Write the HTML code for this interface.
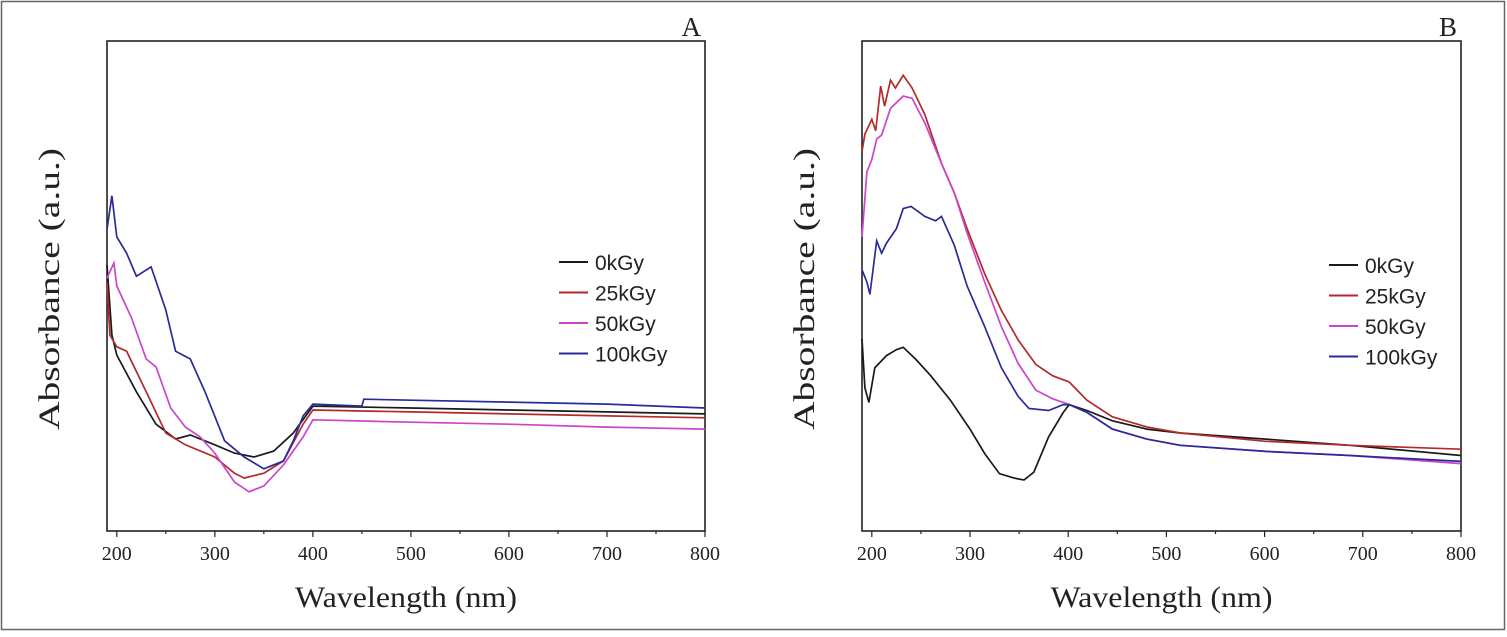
<!DOCTYPE html>
<html><head><meta charset="utf-8"><style>
body{margin:0;background:#fff;}
svg text{font-family:"Liberation Serif",serif;}
.lg{font-family:"Liberation Sans",sans-serif;font-size:21px;}
</style></head><body>
<svg width="1507" height="632" viewBox="0 0 1507 632" xmlns="http://www.w3.org/2000/svg">
<rect x="1.5" y="1.5" width="1503" height="628" fill="none" stroke="#666" stroke-width="1.5"/>
<g id="pa"></g>
<g id="pb"></g>
</svg>
<script>
const xTicks=[200,300,400,500,600,700,800];
const seriesNames=["0kGy","25kGy","50kGy","100kGy"];
const colors=["#1a1a1a","#b22a2a","#cc44cc","#2a2a9a"];
// Panel A
const aBlackX=[190,195,200,220,240,260,275,300,320,340,360,380,400,500,600,700,800];
const aBlackY=[54.3,40,35.9,28.4,21.8,18.8,19.6,17.6,15.9,15.1,16.3,20,25.5,25.1,24.7,24.3,23.9];
const aRedX=[190,193,200,210,230,250,270,300,320,330,350,370,390,400,500,600,700,800];
const aRedY=[50.8,40,37.6,36.7,28.4,20,17.6,15.1,11.8,10.8,11.8,14.3,21.8,24.7,24.3,23.9,23.5,23.1];
const aMagX=[190,197,200,215,230,240,255,270,285,300,320,335,350,370,390,400,500,600,700,800];
const aMagY=[51.6,54.7,50,43.5,35.1,33.5,25.1,21.2,19.2,15.9,10,8,9.2,13.5,19.2,22.7,22.2,21.8,21.2,20.8];
const aBlueX=[190,195,200,210,220,235,250,260,275,290,310,330,350,370,380,390,400,450,452,500,600,700,800];
const aBlueY=[61.6,68.4,60,56.7,52,53.9,45.1,36.7,35.1,28.4,18.4,15.1,12.7,14.3,18.4,23.5,25.9,25.5,26.9,26.7,26.3,25.9,25.1];
// Panel B
const bBlackX=[190,193,197,203,215,225,232,245,260,280,300,315,330,345,355,365,380,395,401,419,445,480,514,601,687,800];
const bBlackY=[39.2,29.2,26.25,33.3,35.8,37,37.5,35,31.7,26.7,20.8,15.8,11.7,10.8,10.4,12,19.2,24.2,25.8,24.6,22.5,20.8,20,18.75,17.5,15.4];
const bRedX=[190,193,200,204,209,213,219,224,232,241,254,271,284,297,315,332,349,367,384,401,419,445,480,514,601,687,800];
const bRedY=[77.5,81,84,81.7,90.8,86.7,92,90.4,93,90.4,85,75,69,61.7,52.5,45,39,34,31.7,30.4,26.7,23.3,21.25,20,18.3,17.5,16.7];
const bMagX=[190,195,200,205,210,219,232,241,254,271,284,297,315,332,349,367,384,401,419,445,480,514,601,687,800];
const bMagY=[60,73.3,75.8,80,80.8,86.25,88.75,88.3,83.3,75,69,60.8,50.8,41.7,34.2,28.75,27,25.8,24.2,20.8,18.75,17.5,16.25,15.4,13.75];
const bBlueX=[190,195,198,205,210,215,225,232,240,254,265,271,284,297,315,332,349,360,380,395,401,419,445,480,514,601,687,800];
const bBlueY=[53.3,50.8,48.3,59.2,56.7,58.75,61.7,65.8,66.25,64.2,63.3,64.2,58.3,50,41.7,33.3,27.5,25,24.6,25.8,25.8,24.2,20.8,18.75,17.5,16.25,15.4,14.2];

const NS="http://www.w3.org/2000/svg";
function mk(parent,tag,attrs){const e=document.createElementNS(NS,tag);for(const k in attrs)e.setAttribute(k,attrs[k]);parent.appendChild(e);return e;}
function panel(gid,L,R,letter,data,legX,legY){
  const g=document.getElementById(gid);
  const T=41,B=531;
  const xs=v=>L+(v-190)/(800-190)*(R-L);
  const ys=v=>B-v/100*(B-T);
  const fr=mk(g,'rect',{x:L,y:T,width:R-L,height:B-T,fill:'none',stroke:'#222','stroke-width':1.6});
  
  
  for(let v=200;v<=800;v+=50){
    const major=v%100===0;
    const t=mk(g,'line',{x1:xs(v),x2:xs(v),y1:B,y2:B+(major?6:3),stroke:'#222','stroke-width':1.2});
    
    
  }
  xTicks.forEach(v=>{
    const t=mk(g,'text',{x:xs(v),y:560,'font-size':20,'text-anchor':'middle',fill:'#222'});t.textContent=v;
    
    
  });
  const xt=mk(g,'text',{x:(L+R)/2,y:607,'font-size':30,'text-anchor':'middle',fill:'#222',textLength:222,lengthAdjust:'spacingAndGlyphs'});xt.textContent='Wavelength (nm)';
  
  
  const yt=mk(g,'text',{x:0,y:0,'font-size':30,'text-anchor':'middle',fill:'#222',textLength:282,lengthAdjust:'spacingAndGlyphs',transform:`translate(${L-48},289) rotate(-90)`});yt.textContent='Absorbance (a.u.)';
  
  
  const lt=mk(g,'text',{x:R-4,y:36,'font-size':27,'text-anchor':'end',fill:'#222'});lt.textContent=letter;
  
  
  data.forEach((d,i)=>{
    const p=mk(g,'polyline',{points:d[0].map((x,j)=>xs(x).toFixed(1)+','+ys(d[1][j]).toFixed(1)).join(' '),fill:'none',stroke:colors[i],'stroke-width':1.7});
    
    
    const y=legY+i*30.5;
    const ll=mk(g,'line',{x1:legX,x2:legX+29,y1:y,y2:y,stroke:colors[i],'stroke-width':2});
    
    
    const lx=mk(g,'text',{x:legX+36,y:y+8,class:'lg',fill:'#222'});lx.textContent=seriesNames[i];
    
    
  });
}
panel('pa',107,705,'A',[[aBlackX,aBlackY],[aRedX,aRedY],[aMagX,aMagY],[aBlueX,aBlueY]],559,262);
panel('pb',862,1461,'B',[[bBlackX,bBlackY],[bRedX,bRedY],[bMagX,bMagY],[bBlueX,bBlueY]],1329,265);
</script>
</body></html>
